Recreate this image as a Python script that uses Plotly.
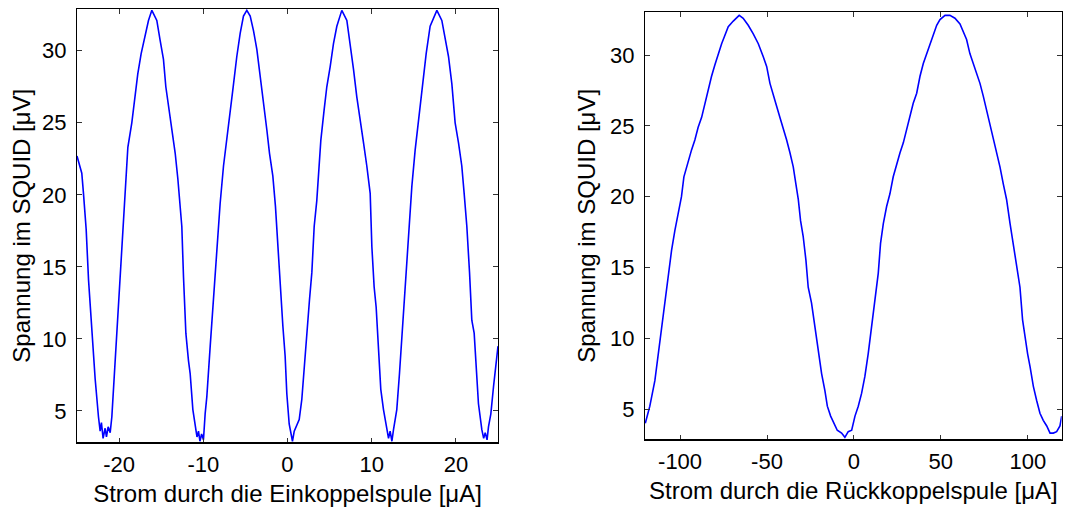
import plotly.graph_objects as go

# ---- data (left panel: Einkoppelspule) ----
x_ein = [-25.0, -24.43, -24.23, -23.91, -23.63, -23.24, -22.84, -22.45, -22.25, -22.1, -21.9, -21.66,
         -21.5, -21.3, -21.06, -20.86, -20.67, -20.35, -19.95, -19.64, -19.28, -18.96, -18.49, -18.17,
         -17.78, -17.38, -16.90, -16.51, -16.11, -15.52, -15.12, -14.73, -14.45, -14.13, -13.74, -13.34,
         -13.02, -12.75, -12.55, -12.35, -12.07, -11.76, -11.56, -11.24, -10.97, -10.75, -10.57, -10.4,
         -10.2, -9.98, -9.78, -9.58, -9.18, -8.79, -8.31, -8.00, -7.60, -7.21, -6.81, -6.49, -6.02,
         -5.62, -5.23, -4.83, -4.43, -4.04, -3.64, -3.33, -2.85, -2.45, -2.14, -1.74, -1.43, -1.19,
         -0.87, -0.55, -0.28, -0.08, 0.20, 0.40, 0.59, 0.8, 1.03, 1.39, 1.70, 1.98, 2.30, 2.61, 2.89,
         3.17, 3.48, 3.96, 4.35, 4.67, 5.07, 5.46, 5.86, 6.45, 7.05, 7.44, 7.84, 8.23, 8.63, 9.03,
         9.42, 9.82, 10.02, 10.29, 10.53, 10.81, 11.08, 11.40, 11.80, 12.0, 12.19, 12.4, 12.59, 12.98,
         13.30, 13.62, 13.97, 14.37, 14.77, 15.16, 15.68, 16.07, 16.47, 16.94, 17.74, 18.33, 18.73,
         19.12, 19.52, 19.91, 20.31, 20.70, 20.98, 21.30, 21.62, 21.89, 22.17, 22.41, 22.68, 23.08,
         23.3, 23.48, 23.7, 23.87, 24.15, 24.47, 24.78, 25.0]
y_ein = [22.7, 21.5, 20.1, 17.6, 14.1, 10.6, 7.2, 4.6, 3.6, 4.2, 3.1, 3.8,
         3.2, 3.9, 3.5, 4.6, 6.5, 9.7, 13.4, 16.4, 20.8, 23.3, 25.0, 26.6,
         28.4, 29.8, 31.2, 32.1, 32.8, 32.1, 30.7, 29.4, 27.5, 26.1, 24.5, 22.9,
         21.1, 19.2, 17.8, 14.3, 10.4, 8.5, 7.6, 5.1, 3.9, 3.2, 3.6, 2.9,
         3.4, 3.0, 4.8, 6.0, 9.5, 12.9, 16.6, 19.4, 22.0, 24.0, 25.9, 27.3, 29.6,
         31.2, 32.4, 32.8, 32.4, 31.4, 30.1, 28.7, 26.3, 24.5, 22.9, 21.3, 19.2, 16.9,
         13.2, 10.9, 8.8, 6.2, 4.1, 3.4, 2.9, 3.6, 3.9, 4.4, 5.8, 8.1, 10.4, 12.7, 14.6,
         17.8, 19.6, 23.8, 25.9, 27.5, 28.9, 30.5, 31.7, 32.8, 32.1, 30.5, 28.7, 26.8, 25.0, 23.6,
         22.0, 20.1, 16.4, 13.6, 12.2, 9.0, 6.5, 5.1, 3.7, 3.1, 3.6, 2.9, 3.7, 5.1,
         7.6, 10.6, 13.9, 17.3, 20.6, 23.1, 25.7, 27.5, 29.8, 31.7, 32.8, 32.1, 30.7,
         29.6, 27.7, 25.0, 23.6, 22.0, 20.1, 17.8, 14.6, 11.3, 10.4, 8.1, 5.5, 3.7,
         3.1, 3.5, 3.0, 3.9, 4.8, 6.7, 8.1, 9.5]

# ---- data (right panel: Rückkoppelspule) ----
x_rueck = [-120.0, -117.4, -114.5, -112.6, -110.7, -108.7, -106.8, -104.9, -103.0, -101.1, -99.2, -97.8,
           -95.3, -93.4, -91.5, -89.6, -87.6, -85.7, -83.8, -81.9, -80.0, -78.1, -76.1, -74.2, -72.3,
           -69.4, -66.0, -63.7, -60.8, -57.9, -55.0, -52.2, -50.2, -48.3, -46.4, -44.5, -42.6, -40.7,
           -38.7, -36.8, -34.9, -33.4, -32.0, -30.7, -29.2, -27.6, -26.3, -24.4, -23.0, -21.5, -19.9,
           -18.6, -16.7, -15.3, -13.4, -11.5, -9.6, -7.1, -5.2, -3.3, -1.3, 0.6, 2.5, 4.4, 6.3, 8.2,
           10.2, 12.1, 14.0, 15.3, 16.9, 18.8, 20.7, 22.6, 24.5, 26.5, 28.4, 30.3, 32.2, 34.1, 36.1,
           38.0, 39.9, 41.8, 43.7, 45.6, 47.6, 49.5, 52.4, 55.2, 58.1, 61.0, 62.9, 64.8, 66.7, 68.7,
           70.6, 72.5, 74.4, 76.3, 78.3, 80.2, 82.1, 84.0, 85.9, 87.8, 89.8, 91.7, 93.6, 95.5, 97.0,
           98.4, 99.9, 101.3, 103.2, 105.1, 107.0, 108.9, 110.9, 112.8, 114.7, 116.6, 118.5, 119.5]
y_rueck = [4.0, 5.2, 7.0, 8.9, 10.6, 12.5, 14.3, 16.2, 17.6, 18.8, 20.0, 21.4,
           22.6, 23.3, 24.0, 24.9, 25.6, 26.6, 27.5, 28.5, 29.3, 30.1, 30.8, 31.4, 32.0,
           32.4, 32.8, 32.6, 32.1, 31.5, 30.8, 29.9, 29.2, 28.0, 27.1, 26.4, 25.6, 24.9,
           24.0, 23.1, 22.1, 20.9, 19.8, 18.3, 17.2, 15.5, 13.6, 12.5, 11.3, 10.1, 8.7,
           7.5, 6.3, 5.2, 4.5, 4.0, 3.5, 3.3, 3.0, 3.4, 3.5, 4.5, 5.2, 6.1, 7.3, 8.9,
           10.8, 12.7, 14.6, 16.7, 18.1, 19.3, 20.2, 21.4, 22.3, 23.1, 23.8, 24.7, 25.6, 26.6, 27.3,
           28.5, 29.4, 30.1, 30.8, 31.5, 32.1, 32.5, 32.8, 32.8, 32.6, 32.2, 31.7, 31.1, 30.1, 29.4,
           28.7, 28.0, 27.1, 26.1, 25.2, 24.0, 23.1, 22.1, 20.9, 19.8, 18.1, 16.7, 15.3, 13.6, 11.3,
           10.1, 8.9, 8.0, 6.6, 5.6, 4.7, 4.2, 3.8, 3.3, 3.3, 3.4, 3.8, 4.5]

# ---- tick labels ----
y_ticks = [5, 10, 15, 20, 25, 30]
y_ticktext = ["5", "10", "15", "20", "25", "30"]
x1_ticks = [-20, -10, 0, 10, 20]
x1_ticktext = ["-20", "-10", "0", "10", "20"]
x2_ticks = [-100, -50, 0, 50, 100]
x2_ticktext = ["-100", "-50", "0", "50", "100"]

FONT = "Liberation Sans, Arial, Helvetica, sans-serif"
TICKFONT = dict(family=FONT, size=22, color="black")
TITLEFONT = dict(family=FONT, size=24, color="black")

fig = go.Figure()
fig.add_trace(go.Scatter(x=x_ein, y=y_ein, mode="lines", line=dict(color="#0000ff", width=1.6),
                         xaxis="x", yaxis="y", showlegend=False, hoverinfo="skip"))
fig.add_trace(go.Scatter(x=x_rueck, y=y_rueck, mode="lines", line=dict(color="#0000ff", width=1.6),
                         xaxis="x2", yaxis="y2", showlegend=False, hoverinfo="skip"))

common = dict(showgrid=False, zeroline=False, showline=True, linecolor="black", linewidth=1,
              mirror="ticks", ticks="inside", ticklen=5, tickwidth=1, tickcolor="#333333",
              tickfont=TICKFONT, automargin=False)

fig.update_layout(
    width=1068, height=502, margin=dict(l=0, r=0, t=0, b=0, pad=0),
    paper_bgcolor="white", plot_bgcolor="white",
    font=dict(family=FONT, size=22, color="black"),
    xaxis=dict(domain=[0.0646, 0.4588], range=[-25, 25], tickvals=x1_ticks, ticktext=x1_ticktext,
               anchor="y", ticklabelstandoff=2,
               title=dict(text="Strom durch die Einkoppelspule [μA]", font=TITLEFONT, standoff=8),
               **common),
    yaxis=dict(domain=[0.1335, 0.999], range=[2.78, 32.93], tickvals=y_ticks, ticktext=y_ticktext,
               anchor="x", ticklabelstandoff=5,
               title=dict(text="Spannung im SQUID [μV]", font=TITLEFONT, standoff=10),
               **common),
    xaxis2=dict(domain=[0.5964, 0.9866], range=[-120.2, 119.5], tickvals=x2_ticks, ticktext=x2_ticktext,
                anchor="y2", ticklabelstandoff=2,
                title=dict(text="Strom durch die Rückkoppelspule [μA]", font=TITLEFONT, standoff=8),
                **common),
    yaxis2=dict(domain=[0.1394, 0.9926], range=[2.81, 33.06], tickvals=y_ticks, ticktext=y_ticktext,
                anchor="x2", ticklabelstandoff=5,
                title=dict(text="Spannung im SQUID [μV]", font=TITLEFONT, standoff=7),
                **common),
    shapes=[
        dict(type="line", xref="x domain", yref="y domain", x0=0, x1=1, y0=0, y1=0,
             line=dict(color="black", width=2)),
        dict(type="line", xref="x2 domain", yref="y2 domain", x0=0, x1=1, y0=0, y1=0,
             line=dict(color="black", width=2)),
    ],
)

fig.write_html("out.html")
